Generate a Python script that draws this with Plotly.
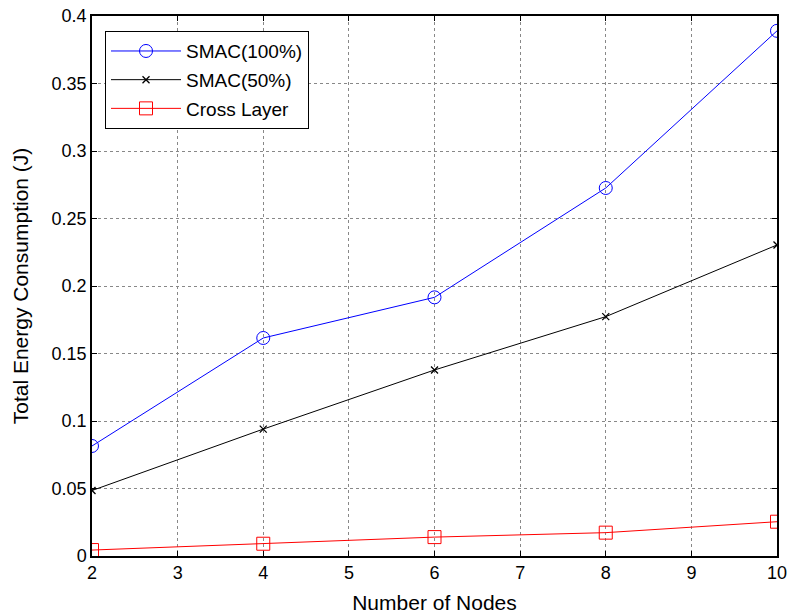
import plotly.graph_objects as go

nodes = [2, 4, 6, 8, 10]
smac100 = [0.0815, 0.1615, 0.1916, 0.2726, 0.389]
smac50 = [0.0485, 0.094, 0.1378, 0.1773, 0.2304]
cross_layer = [0.0044, 0.0091, 0.014, 0.0173, 0.0254]

x_ticks = [2, 3, 4, 5, 6, 7, 8, 9, 10]
y_ticks = [0, 0.05, 0.1, 0.15, 0.2, 0.25, 0.3, 0.35, 0.4]
y_labels = ["0", "0.05", "0.1", "0.15", "0.2", "0.25", "0.3", "0.35", "0.4"]

fig = go.Figure()
fig.add_trace(go.Scatter(x=nodes, y=smac100, name="SMAC(100%)", mode="lines+markers", legendgroup="a",
                         line=dict(color="#0000ff", width=1),
                         marker=dict(symbol="circle-open", size=13, color="#0000ff", line=dict(width=1))))
fig.add_trace(go.Scatter(x=nodes, y=smac50, name="SMAC(50%)", mode="lines+markers", legendgroup="b",
                         line=dict(color="black", width=1),
                         marker=dict(symbol="x-thin-open", size=7, color="black", line=dict(width=1.3))))
fig.add_trace(go.Scatter(x=nodes, y=cross_layer, name="Cross Layer", mode="lines+markers", legendgroup="c",
                         line=dict(color="#ff0000", width=1),
                         marker=dict(symbol="square-open", size=13, color="#ff0000", line=dict(width=1))))

axis_common = dict(showline=True, linecolor="black", linewidth=1.5, mirror="ticks",
                   ticks="inside", ticklen=5, tickcolor="black", automargin=False,
                   ticklabeloverflow="allow",
                   showgrid=True, gridcolor="#888888", griddash="dot", gridwidth=1,
                   zeroline=False, tickfont=dict(size=18, color="black"))

fig.update_layout(
    width=790, height=616,
    margin=dict(l=92, r=13, t=16, b=60),
    paper_bgcolor="white", plot_bgcolor="white",
    font=dict(family="Liberation Sans, Arial, sans-serif", color="black"),
    xaxis=dict(range=[2, 10], tickvals=x_ticks, title=dict(text="Number of Nodes", font=dict(size=21), standoff=13),
               **axis_common),
    yaxis=dict(range=[0, 0.4], tickvals=y_ticks, ticktext=y_labels,
               title=dict(text="Total Energy Consumption (J)", font=dict(size=21), standoff=17),
               **axis_common),
    legend=dict(x=0.019, y=0.972, xanchor="left", yanchor="top", bgcolor="white",
                bordercolor="black", borderwidth=1, font=dict(size=19),
                itemwidth=70, entrywidth=139, traceorder="grouped", tracegroupgap=1),
    showlegend=True,
)

fig.write_html("out.html", config={"displayModeBar": False},
               post_script="document.body.style.margin='0';")
